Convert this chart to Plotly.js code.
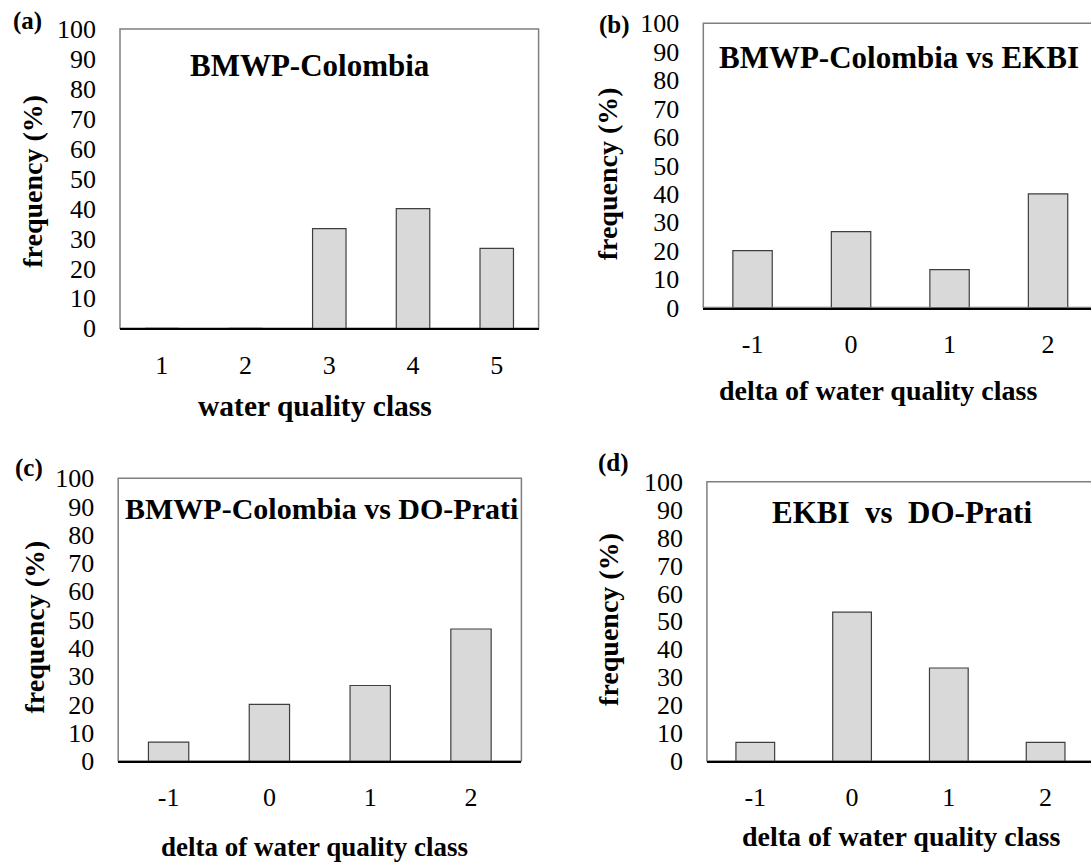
<!DOCTYPE html>
<html>
<head>
<meta charset="utf-8">
<script src="https://cdn.plot.ly/plotly-3.0.1.min.js"></script>
<style>
html, body { margin: 0; padding: 0; overflow: hidden; background: #ffffff; }
#chart { width: 1100px; height: 863px; }
</style>
</head>
<body>
<div id="chart"></div>
<script>
// ---- data ----
const classCats = ['1', '2', '3', '4', '5'];
const deltaCats = ['-1', '0', '1', '2'];
const freqBMWP = [0, 0, 33.3, 40, 26.7];
const freqBMWPvsEKBI = [20, 26.7, 13.3, 40];
const freqBMWPvsDO = [6.7, 20, 26.7, 46.7];
const freqEKBIvsDO = [6.7, 53.3, 33.3, 6.7];
const yTicks = [0, 10, 20, 30, 40, 50, 60, 70, 80, 90, 100];
const panelLetters = ['(a)', '(b)', '(c)', '(d)'];
const panelTitles = ['BMWP-Colombia', 'BMWP-Colombia vs EKBI', 'BMWP-Colombia vs DO-Prati', 'EKBI\u00a0 vs\u00a0 DO-Prati'];
const xTitles = ['water quality class', 'delta of water quality class', 'delta of water quality class', 'delta of water quality class'];
const yTitle = 'frequency (%)';

// ---- layout helpers ----
const W = 1100, H = 863;
const px = v => v / W;
const py = v => 1 - v / H;
const FONT = 'Liberation Serif, Times New Roman, serif';

// plot boxes in pixels [left, right, top, bottom]
const boxes = [
  [120, 538.6, 29, 328.3],
  [703.3, 1097.3, 23.3, 307.5],
  [118.2, 521.4, 478.3, 761],
  [706.9, 1094, 481.7, 761]
];
const series = [
  [classCats, freqBMWP],
  [deltaCats, freqBMWPvsEKBI],
  [deltaCats, freqBMWPvsDO],
  [deltaCats, freqEKBIvsDO]
];
// label positions (pixels)
const letterPos = [[27.5, 21], [614.5, 25], [29, 468], [613.7, 463]];
const titlePos = [[310, 65], [899, 58], [321, 508], [902, 512]];
const titleSize = [31, 31, 30, 31];
const xTitlePos = [[315, 406], [878, 390], [314.6, 846.7], [900.7, 836.7]];
const xTitleSize = [29.5, 28, 27, 28];
const yTitlePos = [[33, 181.7], [607.6, 173.7], [34.8, 626.7], [607.7, 619.2]];

const data = [];
const layout = {
  width: W, height: H,
  margin: {l: 0, r: 0, t: 0, b: 0},
  paper_bgcolor: '#ffffff',
  plot_bgcolor: '#ffffff',
  showlegend: false,
  bargap: 0.6,
  font: {family: FONT, color: '#000000', size: 26},
  annotations: [],
  shapes: []
};

series.forEach((s, i) => {
  const n = i === 0 ? '' : String(i + 1);
  const xa = 'x' + n, ya = 'y' + n;
  data.push({
    type: 'bar',
    x: s[0], y: s[1],
    xaxis: xa, yaxis: ya,
    marker: {color: '#d9d9d9', line: {color: '#3f3f3f', width: 1.2}},
    hoverinfo: 'x+y'
  });
  const b = boxes[i];
  layout['xaxis' + n] = {
    domain: [px(b[0]), px(b[1])],
    anchor: ya,
    type: 'category',
    categoryorder: 'array', categoryarray: s[0],
    showgrid: false, zeroline: false,
    showline: true, linecolor: '#000000', linewidth: 2,
    ticks: '',
    tickfont: {family: FONT, size: 26, color: '#000000'},
    ticklabelstandoff: 12,
    fixedrange: true
  };
  layout['yaxis' + n] = {
    domain: [py(b[3]), py(b[2])],
    anchor: xa,
    range: [0, 100],
    tickvals: yTicks,
    showgrid: false, zeroline: false,
    showline: false,
    ticks: '',
    tickfont: {family: FONT, size: 26, color: '#000000'},
    ticklabelstandoff: 23,
    fixedrange: true
  };
  layout.shapes.push({
    type: 'rect', xref: xa + ' domain', yref: ya + ' domain',
    x0: 0, x1: 1, y0: 0, y1: 1,
    line: {color: '#7f7f7f', width: 1.5}, layer: 'below'
  });
  layout.annotations.push({
    text: '<b>' + panelLetters[i] + '</b>', xref: 'paper', yref: 'paper',
    x: px(letterPos[i][0]), y: py(letterPos[i][1]), xanchor: 'center', yanchor: 'middle',
    showarrow: false, font: {family: FONT, size: 25, color: '#000000'}
  });
  layout.annotations.push({
    text: '<b>' + panelTitles[i] + '</b>', xref: 'paper', yref: 'paper',
    x: px(titlePos[i][0]), y: py(titlePos[i][1]), xanchor: 'center', yanchor: 'middle',
    showarrow: false, font: {family: FONT, size: titleSize[i], color: '#000000'}
  });
  layout.annotations.push({
    text: '<b>' + xTitles[i] + '</b>', xref: 'paper', yref: 'paper',
    x: px(xTitlePos[i][0]), y: py(xTitlePos[i][1]), xanchor: 'center', yanchor: 'middle',
    showarrow: false, font: {family: FONT, size: xTitleSize[i], color: '#000000'}
  });
  layout.annotations.push({
    text: '<b>' + yTitle + '</b>', xref: 'paper', yref: 'paper', textangle: -90,
    x: px(yTitlePos[i][0]), y: py(yTitlePos[i][1]), xanchor: 'center', yanchor: 'middle',
    showarrow: false, font: {family: FONT, size: 28, color: '#000000'}
  });
});

Plotly.newPlot('chart', data, layout, {displayModeBar: false, staticPlot: true});
</script>
</body>
</html>
